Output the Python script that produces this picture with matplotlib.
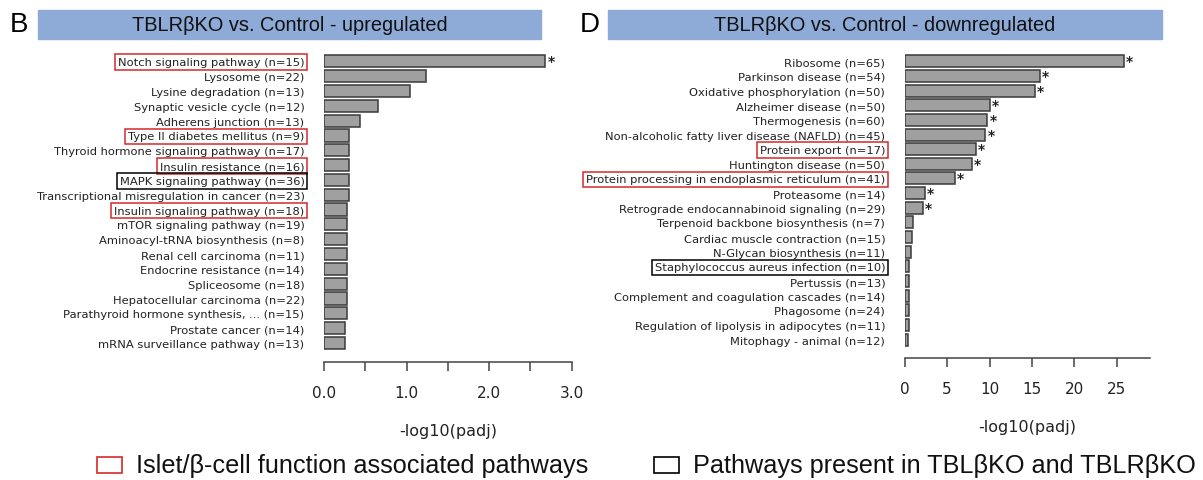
import matplotlib
matplotlib.use("Agg")
import matplotlib.pyplot as plt
from matplotlib.patches import Rectangle

# ---- data -------------------------------------------------------------
up_labels = ["Notch signaling pathway (n=15)", "Lysosome (n=22)", "Lysine degradation (n=13)",
             "Synaptic vesicle cycle (n=12)", "Adherens junction (n=13)",
             "Type II diabetes mellitus (n=9)", "Thyroid hormone signaling pathway (n=17)",
             "Insulin resistance (n=16)", "MAPK signaling pathway (n=36)",
             "Transcriptional misregulation in cancer (n=23)", "Insulin signaling pathway (n=18)",
             "mTOR signaling pathway (n=19)", "Aminoacyl-tRNA biosynthesis (n=8)",
             "Renal cell carcinoma (n=11)", "Endocrine resistance (n=14)", "Spliceosome (n=18)",
             "Hepatocellular carcinoma (n=22)", "Parathyroid hormone synthesis, ... (n=15)",
             "Prostate cancer (n=14)", "mRNA surveillance pathway (n=13)"]
up_values = [2.68, 1.24, 1.04, 0.66, 0.44, 0.30, 0.30, 0.30, 0.30, 0.30,
             0.28, 0.28, 0.28, 0.28, 0.28, 0.28, 0.28, 0.28, 0.26, 0.26]
up_star = [0]
up_red = [0, 5, 7, 10]
up_black = [8]

down_labels = ["Ribosome (n=65)", "Parkinson disease (n=54)", "Oxidative phosphorylation (n=50)",
               "Alzheimer disease (n=50)", "Thermogenesis (n=60)",
               "Non-alcoholic fatty liver disease (NAFLD) (n=45)", "Protein export (n=17)",
               "Huntington disease (n=50)", "Protein processing in endoplasmic reticulum (n=41)",
               "Proteasome (n=14)", "Retrograde endocannabinoid signaling (n=29)",
               "Terpenoid backbone biosynthesis (n=7)", "Cardiac muscle contraction (n=15)",
               "N-Glycan biosynthesis (n=11)", "Staphylococcus aureus infection (n=10)",
               "Pertussis (n=13)", "Complement and coagulation cascades (n=14)",
               "Phagosome (n=24)", "Regulation of lipolysis in adipocytes (n=11)",
               "Mitophagy - animal (n=12)"]
down_values = [25.8, 15.95, 15.3, 10.0, 9.75, 9.5, 8.4, 7.95, 5.9, 2.4,
               2.1, 0.95, 0.85, 0.7, 0.45, 0.45, 0.45, 0.45, 0.45, 0.42]
down_star = list(range(11))
down_red = [6, 8]
down_black = [14]

RED = "#d42a2a"
BLUE = "#8eaad6"
W, H = 1203, 481


def px(x0, y0, x1, y1):
    # pixel box (top-left origin) -> figure fraction rect
    return [x0 / W, 1 - y1 / H, (x1 - x0) / W, (y1 - y0) / H]


def panel(ax, labels, values, stars, red, black, xmax, ticks, ticklabels, ybot):
    y = list(range(len(labels)))
    ax.barh(y, values, height=0.82, color="#a0a0a0", edgecolor="#3a3a3a", linewidth=1.1)
    for i in stars:
        ax.annotate("*", (values[i], i), xytext=(1.5, 0), textcoords="offset points",
                    ha="left", va="center", fontsize=10, fontweight="bold", color="#222222")
    ax.set_yticks(y)
    ax.set_yticklabels(labels, fontsize=8.25, color="#222222")
    ax.set_ylim(ybot, -0.7)
    ax.set_xlim(0, xmax)
    ax.set_xticks(ticks)
    ax.set_xticklabels(ticklabels, fontsize=11, color="#222222")
    ax.tick_params(axis="y", length=0, pad=14)
    ax.tick_params(axis="x", length=6.5, width=1.1, pad=10, color="#444444")
    for s in ["left", "right", "top"]:
        ax.spines[s].set_visible(False)
    ax.spines["bottom"].set_linewidth(1.1)
    ax.spines["bottom"].set_color("#444444")
    ax.set_xlabel("-log10(padj)", fontsize=11.5, color="#222222", labelpad=16.5)
    tl = ax.get_yticklabels()
    for i in red:
        tl[i].set_bbox(dict(boxstyle="square,pad=0.25", fc="none", ec=RED, lw=1.1))
    for i in black:
        tl[i].set_bbox(dict(boxstyle="square,pad=0.25", fc="none", ec="black", lw=1.1))


fig = plt.figure(figsize=(W / 100, H / 100), dpi=100)

ax1 = fig.add_axes(px(324, 51.9, 571.7, 362.7))
panel(ax1, up_labels, up_values, up_star, up_red, up_black, 3.0,
      [0, 0.5, 1.0, 1.5, 2.0, 2.5, 3.0], ["0.0", "", "1.0", "", "2.0", "", "3.0"], 20.26)

ax2 = fig.add_axes(px(904.7, 52.0, 1150, 358.7))
panel(ax2, down_labels, down_values, down_star, down_red, down_black, 28.9,
      [0, 5, 10, 15, 20, 25], ["0", "5", "10", "15", "20", "25"], 20.23)

# title banners
for (x0, x1, txt) in [(38, 541, "TBLRβKO vs. Control - upregulated"),
                      (608, 1162, "TBLRβKO vs. Control - downregulated")]:
    fig.patches.append(Rectangle((x0 / W, 1 - 40 / H), (x1 - x0) / W, 29 / H,
                                 transform=fig.transFigure, color=BLUE, zorder=0))
    fig.text((x0 + x1) / 2 / W, 1 - 25.5 / H, txt, ha="center", va="center",
             fontsize=14.4, family="Liberation Sans", color="#111111")
fig.text(10 / W, 1 - 25.5 / H, "B", ha="left", va="center", fontsize=20,
         family="Liberation Sans")
fig.text(580 / W, 1 - 25.5 / H, "D", ha="left", va="center", fontsize=20,
         family="Liberation Sans")

# legend at the bottom
for (x0, col, txt) in [(97, RED, "Islet/β-cell function associated pathways"),
                       (654, "black", "Pathways present in TBLβKO and TBLRβKO")]:
    fig.patches.append(Rectangle((x0 / W, 1 - 474 / H), 25 / W, 16 / H,
                                 transform=fig.transFigure, fc="none", ec=col, lw=1.2))
    fig.text((x0 + 39) / W, 1 - 466.5 / H, txt, ha="left", va="center",
             fontsize=18.2, family="Liberation Sans", color="#111111")

fig.savefig("out.png", dpi=100)
